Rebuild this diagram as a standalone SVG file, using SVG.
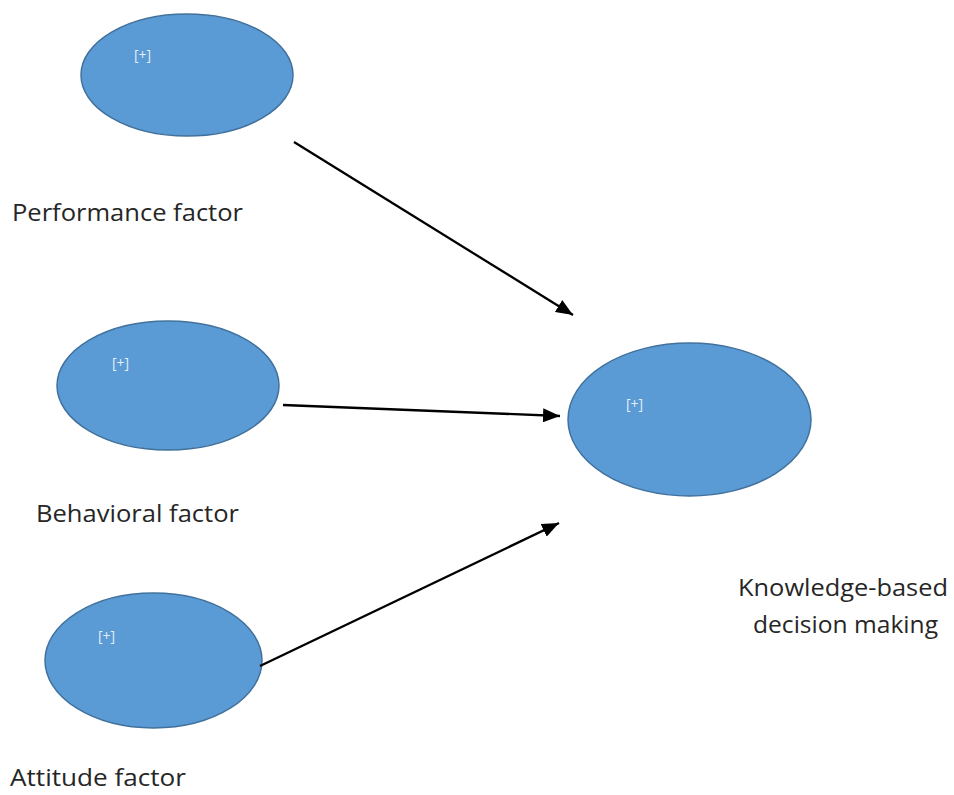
<svg xmlns="http://www.w3.org/2000/svg" width="954" height="795" viewBox="0 0 954 795">
<defs>
<style>
.node{fill:#5B9BD5;stroke:#41719C;stroke-width:1.5}
.plus{font-family:"Open Sans","Liberation Sans",sans-serif;font-size:14px;fill:#ffffff;fill-opacity:0.85}
.lbl{font-family:"Open Sans","Liberation Sans",sans-serif;font-size:23.5px;fill:#262626}
.conn{stroke:#000;stroke-width:2.3;fill:none;marker-end:url(#arr)}
</style>
<marker id="arr" markerUnits="userSpaceOnUse" markerWidth="18" markerHeight="14" refX="17" refY="7" orient="auto">
<path d="M0,0 L17,7 L0,14 Z" fill="#000"/>
</marker>
</defs>
<rect width="954" height="795" fill="#fff"/>
<g id="performance">
<ellipse class="node" cx="187" cy="75" rx="106" ry="61"/>
<text class="plus" x="134" y="60">[+]</text>
<text class="lbl" x="12" y="221" textLength="231" lengthAdjust="spacingAndGlyphs">Performance factor</text>
</g>
<g id="behavioral">
<ellipse class="node" cx="168" cy="385.5" rx="111" ry="64.5"/>
<text class="plus" x="112" y="368">[+]</text>
<text class="lbl" x="36" y="522" textLength="203" lengthAdjust="spacingAndGlyphs">Behavioral factor</text>
</g>
<g id="attitude">
<ellipse class="node" cx="153.5" cy="660.5" rx="108.5" ry="67.5"/>
<text class="plus" x="98" y="641">[+]</text>
<text class="lbl" x="10" y="786" textLength="176" lengthAdjust="spacingAndGlyphs">Attitude factor</text>
</g>
<g id="knowledge">
<ellipse class="node" cx="689.5" cy="419.5" rx="121.5" ry="76.5"/>
<text class="plus" x="626" y="409">[+]</text>
<text class="lbl" x="738" y="596" textLength="210" lengthAdjust="spacingAndGlyphs">Knowledge-based</text>
<text class="lbl" x="753" y="633" textLength="185" lengthAdjust="spacingAndGlyphs">decision making</text>
</g>
<g id="connectors">
<line class="conn" x1="294" y1="142" x2="573" y2="315"/>
<line class="conn" x1="283" y1="405" x2="560" y2="416"/>
<line class="conn" x1="260" y1="666" x2="559" y2="523"/>
</g>
</svg>
